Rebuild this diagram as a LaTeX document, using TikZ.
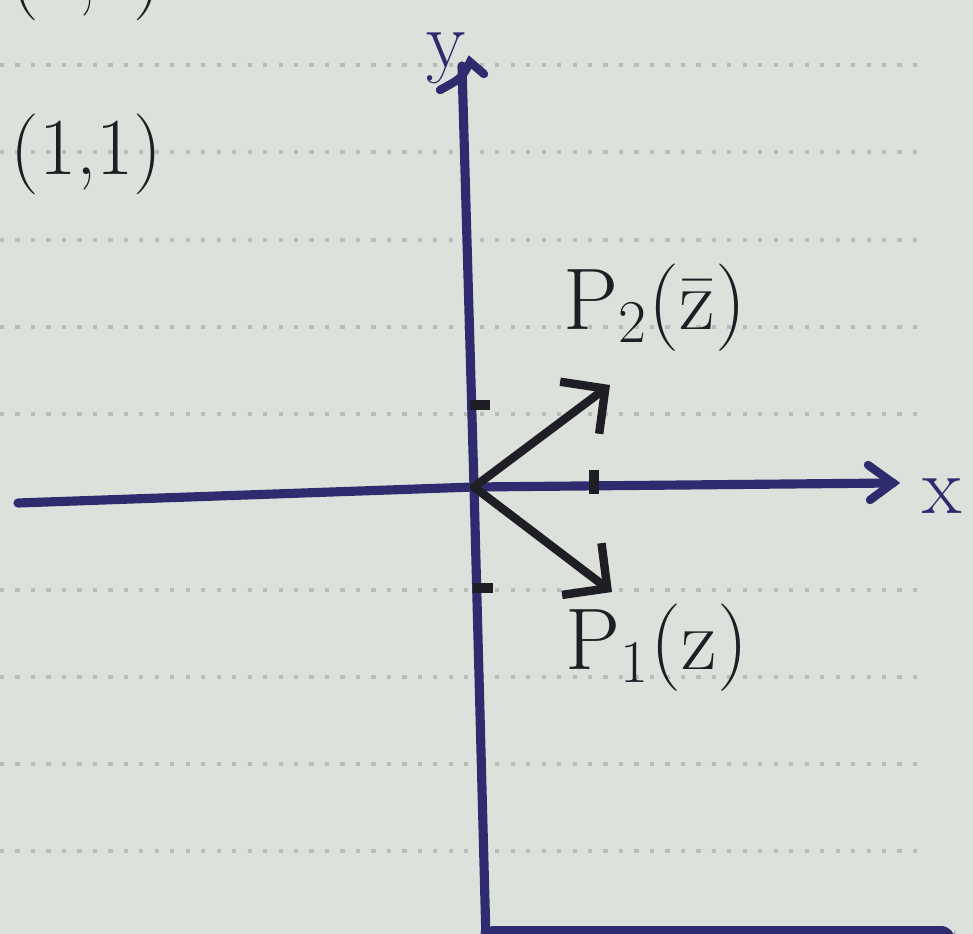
\documentclass[tikz,border=0pt]{standalone}
\usepackage{tikz}
\usetikzlibrary{arrows.meta}
\definecolor{paper}{HTML}{DDE1DB}
\definecolor{ink}{HTML}{2E2C6E}
\definecolor{pen}{HTML}{1E1E24}
\definecolor{rule}{HTML}{B9BDB8}
\tikzset{
axis/.style={
	draw=ink,
	line width=2.6pt,
	line cap=round
},
vec/.style={
	draw=pen,
	line width=2.4pt,
	line cap=round,
	-{Straight Barb[length=3.2mm, width=6.5mm, line width=2.4pt]}
},
tick/.style={
	draw=pen,
	line width=2.6pt
},
ruling/.style={
	draw=rule,
	line width=1.2pt,
	dash pattern=on 1.2pt off 3.2pt
},
lbl/.style={
	text=pen,
	font=\fontsize{23}{27}\selectfont,
	inner sep=0pt
}
}

\begin{document}
\begin{tikzpicture}[x=0.01cm, y=-0.01cm]
% ===== Page =====
\fill[paper] (0,0) rectangle (973,934);
\useasboundingbox (0,0) rectangle (973,934);
\clip (0,0) rectangle (973,934);
% ===== Dotted rulings =====
\foreach \yy in {65,152,240,327,414,590,677,764,851} {
	\draw[ruling] (0,\yy) -- (925,\yy);
}
% ===== Axes =====
\coordinate (O)     at (474,487);
\coordinate (xleft) at (18,503);
\coordinate (xtip)  at (893,483);
\coordinate (ybot)  at (486,940);
\coordinate (ytip)  at (462,66);
\draw [axis] (xleft) -- (O) -- (xtip);
\draw [axis] (ybot) -- (O) -- (ytip);
\draw [axis, line width=2.4pt] (868,465) -- (893,483) -- (870,500);
\draw [axis, line width=2.4pt] (440,90) .. controls (462,78) .. (470,62) -- (484,74);
% axis labels
\node (xlbl) [lbl, text=ink] at (942,496) {x};
\node (ylbl) [lbl, text=ink] at (446,58) {y};
% ===== Unit ticks =====
\draw [tick] (594,470) -- (594,494);
\draw [tick] (470,405) -- (490,405);
\draw [tick] (473,588) -- (493,588);
% ===== Vectors =====
\coordinate (p2tip) at (610,385);
\coordinate (p1tip) at (612,592);
\draw [vec] (O) -- (p2tip);
\draw [vec] (O) -- (p1tip);
% ===== Labels =====
\node (ptwo) [lbl] at (655,308) {$\mathrm{P}_2(\bar{\mathrm{z}})$};
\node (pone) [lbl] at (657,648) {$\mathrm{P}_1(\mathrm{z})$};
\node (pt)   [lbl, anchor=west] at (10,154) {(1,1)};
\node (ptup) [lbl, anchor=west] at (10,-20) {(1,1)};
% frame edge
\fill[ink, rounded corners=4pt] (480,926) rectangle (955,944);
\end{tikzpicture}
\end{document}
